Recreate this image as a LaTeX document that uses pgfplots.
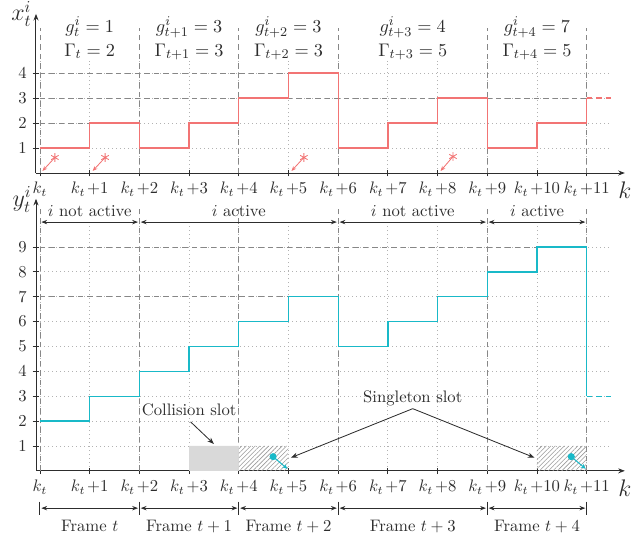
\documentclass[border=0pt]{standalone}
\usepackage{pgfplots}
\pgfplotsset{compat=1.18}
\usetikzlibrary{patterns,patterns.meta,arrows.meta}

\definecolor{xred}{RGB}{242,116,116}
\definecolor{ycyan}{RGB}{25,185,200}
\definecolor{guide}{RGB}{135,135,135}
\definecolor{ink}{RGB}{45,45,45}

\tikzset{
  guideline/.style={guide, line width=0.5pt, dash pattern=on 3.3pt off 2.4pt},
  span/.style={ink, line width=0.5pt, {Stealth[length=3.5pt,width=2.6pt]}-{Stealth[length=3.5pt,width=2.6pt]}, shorten <=0.8pt, shorten >=0.8pt},
  hatch/.style={pattern={Lines[angle=45, distance=1.9pt, line width=0.35pt]}, pattern color=black!40},
}

\newcommand{\kt}[1]{$k_t\mkern2mu{+}#1$}

\pgfplotsset{
  slotaxis/.style={
    scale only axis,
    x=29.82pt,
    xmin=-0.08, xmax=11.5, ymin=0,
    axis lines=left,
    axis line style={ink, line width=0.6pt, -{Stealth[length=4pt,width=3pt]}},
    x axis line style={shorten >=-8pt},
    xtick={0,...,11},
    xticklabels={$k_t$,\kt1,\kt2,\kt3,\kt4,\kt5,\kt6,\kt7,\kt8,\kt9,\kt{10},\kt{11}},
    tick align=center, major tick length=4pt,
    tick style={ink, line width=0.5pt},
    tick label style={ink},
    grid=major, grid style={dotted, black!30, line width=0.5pt},
    clip=false,
  },
}

\begin{document}
\begin{tikzpicture}
\path[use as bounding box] (-21.6pt,-220.2pt) rectangle (357.6pt,103.8pt);

% ---------------- queue x_t^i ----------------
\begin{axis}[slotaxis, y=15pt, ymax=4.5, ytick={1,...,4},
  y axis line style={shorten >=-28pt}]
  % frame boundaries and reference levels
  \foreach \b in {0,2,4,6,9,11}{
    \edef\tmp{\noexpand\draw[guideline] (axis cs:\b,0) -- (axis cs:\b,5.8);}\tmp
  }
  \draw[guideline] (axis cs:0,2) -- (axis cs:2,2);
  \draw[guideline] (axis cs:0,3) -- (axis cs:11,3);
  \draw[guideline] (axis cs:0,4) -- (axis cs:6,4);

  \addplot[xred, line width=0.8pt, const plot, mark=none]
    coordinates {(0,1) (1,2) (2,1) (3,2) (4,3) (5,4) (6,1) (7,2) (8,3) (9,1) (10,2) (11,3)};
  \addplot[xred, line width=0.8pt, dash pattern=on 3.3pt off 2.4pt, mark=none]
    coordinates {(11,3) (11.5,3)};

  % arrivals
  \addplot[xred, line width=0.5pt, -{Stealth[length=3pt,width=2.4pt]}, mark=asterisk,
    mark indices={1}, mark size=2.6pt, mark options={solid,-}]
    coordinates {(0.30,0.62) (0.05,0.08)};
  \addplot[xred, line width=0.5pt, -{Stealth[length=3pt,width=2.4pt]}, mark=asterisk,
    mark indices={1}, mark size=2.6pt, mark options={solid,-}]
    coordinates {(1.31,0.62) (1.06,0.08)};
  \addplot[xred, line width=0.5pt, -{Stealth[length=3pt,width=2.4pt]}, mark=asterisk,
    mark indices={1}, mark size=2.6pt, mark options={solid,-}]
    coordinates {(5.31,0.62) (5.06,0.08)};
  \addplot[xred, line width=0.5pt, -{Stealth[length=3pt,width=2.4pt]}, mark=asterisk,
    mark indices={1}, mark size=2.6pt, mark options={solid,-}]
    coordinates {(8.31,0.66) (8.06,0.08)};

  % per-frame parameters
  \begin{scope}[every node/.style={ink, anchor=base, inner sep=1pt, font=\fontsize{11}{13}\selectfont}]
    \node at (axis cs:1,5.64)   {$g_t^i = 1$};
    \node at (axis cs:3,5.64)   {$g_{t+1}^i = 3$};
    \node at (axis cs:5,5.64)   {$g_{t+2}^i = 3$};
    \node at (axis cs:7.5,5.64) {$g_{t+3}^i = 4$};
    \node at (axis cs:10,5.64)  {$g_{t+4}^i = 7$};
    \node at (axis cs:1,4.68)   {$\Gamma_t = 2$};
    \node at (axis cs:3,4.68)   {$\Gamma_{t+1} = 3$};
    \node at (axis cs:5,4.68)   {$\Gamma_{t+2} = 3$};
    \node at (axis cs:7.5,4.68) {$\Gamma_{t+3} = 5$};
    \node at (axis cs:10,4.68)  {$\Gamma_{t+4} = 5$};
  \end{scope}

  \node[ink, anchor=east, inner sep=0pt] at (axis cs:-0.08,6.36) [xshift=-2.5pt] {\Large $x_t^i$};
  \node[ink, anchor=north, inner sep=0pt] at (axis cs:11.5,0) [xshift=8pt, yshift=-5.2pt] {\Large $k$};
\end{axis}

% ---------------- age y_t^i ----------------
\begin{axis}[slotaxis, at={(0pt,-178.7pt)}, y=14.925pt, ymax=10, ytick={1,...,9},
  y axis line style={shorten >=-14pt}]
  \foreach \b in {0,2,4,6,9,11}{
    \edef\tmp{\noexpand\draw[guideline] (axis cs:\b,0) -- (axis cs:\b,10.56);}\tmp
  }
  \draw[guideline] (axis cs:0,7) -- (axis cs:6,7);
  \draw[guideline] (axis cs:0,9) -- (axis cs:11,9);

  % slots
  \addplot[draw=none, fill=black!15, const plot] coordinates {(3,1) (4,1)} \closedcycle;
  \addplot[draw=none, hatch, const plot] coordinates {(4,1) (5,1)} \closedcycle;
  \addplot[draw=none, hatch, const plot] coordinates {(10,1) (11,1)} \closedcycle;

  \addplot[ycyan, line width=0.8pt, const plot, mark=none]
    coordinates {(0,2) (1,3) (2,4) (3,5) (4,6) (5,7) (6,5) (7,6) (8,7) (9,8) (10,9) (11,3)};
  \addplot[ycyan, line width=0.8pt, dash pattern=on 3.3pt off 2.4pt, mark=none]
    coordinates {(11,3) (11.5,3)};

  % successful deliveries
  \addplot[ycyan, line width=0.6pt, -{Stealth[length=3pt,width=2.6pt]}, mark=*,
    mark indices={1}, mark size=1.8pt, mark options={solid,-}]
    coordinates {(4.69,0.57) (4.98,0.08)};
  \addplot[ycyan, line width=0.6pt, -{Stealth[length=3pt,width=2.6pt]}, mark=*,
    mark indices={1}, mark size=1.8pt, mark options={solid,-}]
    coordinates {(10.69,0.57) (10.98,0.08)};

  % annotations
  \node[ink] at (axis cs:3.0,2.45) {Collision slot};
  \draw[ink, line width=0.5pt, -{Stealth[length=4pt,width=3pt]}] (axis cs:3.03,1.97) -- (axis cs:3.5,1.08);
  \node[ink] at (axis cs:7.5,2.92) {Singleton slot};
  \draw[ink, line width=0.5pt, -{Stealth[length=4pt,width=3pt]}] (axis cs:7.5,2.5) -- (axis cs:5.05,0.53);
  \draw[ink, line width=0.5pt, -{Stealth[length=4pt,width=3pt]}] (axis cs:7.5,2.5) -- (axis cs:9.95,0.53);

  % activity of node i
  \draw[span] (axis cs:0,10) -- (axis cs:2,10);
  \draw[span] (axis cs:2,10) -- (axis cs:6,10);
  \draw[span] (axis cs:6,10) -- (axis cs:9,10);
  \draw[span] (axis cs:9,10) -- (axis cs:11,10);
  \begin{scope}[every node/.style={ink, anchor=base, inner sep=1pt}]
    \node at (axis cs:1,10.22)   {$i$ not active};
    \node at (axis cs:4,10.22)   {$i$ active};
    \node at (axis cs:7.5,10.22) {$i$ not active};
    \node at (axis cs:10,10.22)  {$i$ active};
  \end{scope}

  % frames
  \foreach \b in {0,2,4,6,9,11}{
    \edef\tmp{\noexpand\draw[ink, line width=0.6pt] (axis cs:\b,-1.24) -- (axis cs:\b,-1.78);}\tmp
  }
  \draw[span] (axis cs:0,-1.5) -- (axis cs:2,-1.5);
  \draw[span] (axis cs:2,-1.5) -- (axis cs:4,-1.5);
  \draw[span] (axis cs:4,-1.5) -- (axis cs:6,-1.5);
  \draw[span] (axis cs:6,-1.5) -- (axis cs:9,-1.5);
  \draw[span] (axis cs:9,-1.5) -- (axis cs:11,-1.5);
  \begin{scope}[every node/.style={ink, anchor=base}]
    \node at (axis cs:1,-2.45)   {Frame $t$};
    \node at (axis cs:3,-2.45)   {Frame $t+1$};
    \node at (axis cs:5,-2.45)   {Frame $t+2$};
    \node at (axis cs:7.5,-2.45) {Frame $t+3$};
    \node at (axis cs:10,-2.45)  {Frame $t+4$};
  \end{scope}

  \node[ink, anchor=east, inner sep=0pt] at (axis cs:-0.08,10.9) [xshift=-2.5pt] {\Large $y_t^i$};
  \node[ink, anchor=north, inner sep=0pt] at (axis cs:11.5,0) [xshift=8pt, yshift=-5.2pt] {\Large $k$};
\end{axis}
\end{tikzpicture}
\end{document}
